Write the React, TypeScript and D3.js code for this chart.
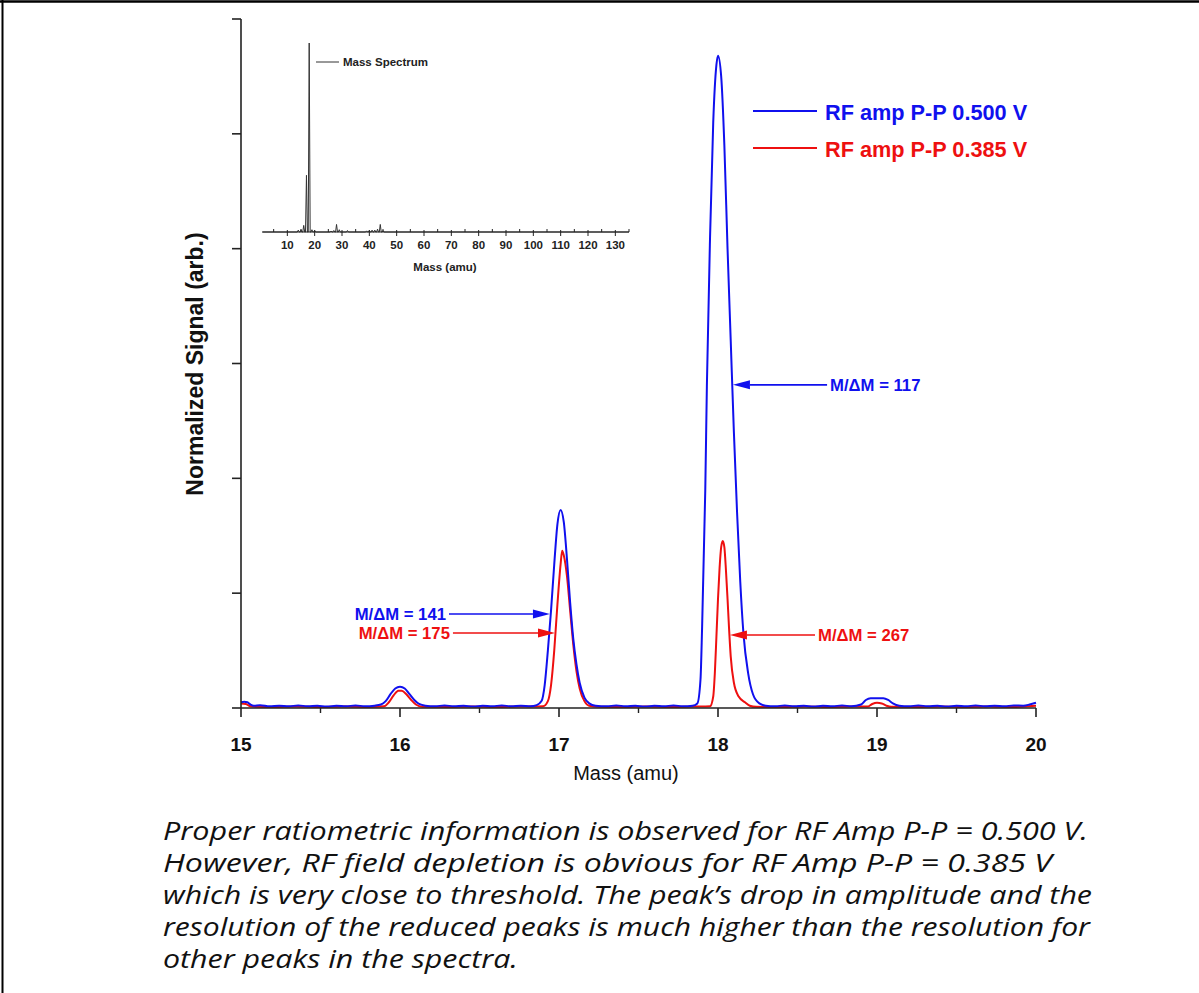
import React from 'react';
import * as d3 from 'd3';

const W = 1199;
const H = 993;

// ---------- data ----------
const massTicks = [15, 16, 17, 18, 19, 20];
const minorMassTicks = [15.5, 16.5, 17.5, 18.5, 19.5];
const signalTicks = [0, 1, 2, 3, 4, 5, 6];

const blueSeries: [number, number][] = [
  [15.0, 0.05], [15.02, 0.055], [15.04, 0.05], [15.06, 0.03], [15.08, 0.02], [15.12, 0.025],
  [15.18, 0.015], [15.24, 0.02], [15.3, 0.015], [15.36, 0.022], [15.42, 0.015], [15.48, 0.02],
  [15.54, 0.012], [15.6, 0.02], [15.66, 0.015], [15.72, 0.022], [15.78, 0.015], [15.84, 0.02],
  [15.88, 0.03], [15.91, 0.06], [15.94, 0.12], [15.97, 0.17], [16.0, 0.185], [16.03, 0.17],
  [16.06, 0.12], [16.09, 0.07], [16.12, 0.035], [16.16, 0.02], [16.22, 0.015], [16.28, 0.022],
  [16.34, 0.015], [16.4, 0.02], [16.46, 0.012], [16.52, 0.02], [16.58, 0.015], [16.64, 0.022],
  [16.7, 0.015], [16.76, 0.02], [16.82, 0.015], [16.86, 0.025], [16.89, 0.06], [16.91, 0.2],
  [16.93, 0.5], [16.95, 0.85], [16.97, 1.25], [16.99, 1.6], [17.01, 1.725], [17.03, 1.62],
  [17.05, 1.3], [17.07, 0.92], [17.09, 0.6], [17.11, 0.38], [17.13, 0.22], [17.16, 0.09],
  [17.19, 0.04], [17.23, 0.02], [17.3, 0.015], [17.36, 0.022], [17.42, 0.015], [17.48, 0.02],
  [17.54, 0.012], [17.6, 0.02], [17.66, 0.015], [17.72, 0.022], [17.78, 0.015], [17.84, 0.02],
  [17.87, 0.04], [17.89, 0.25], [17.9, 0.7], [17.92, 1.9], [17.93, 2.8], [17.95, 4.1],
  [17.97, 5.1], [17.99, 5.6], [18.0, 5.68], [18.02, 5.5], [18.04, 4.9], [18.06, 4.0],
  [18.08, 3.2], [18.1, 2.4], [18.12, 1.7], [18.14, 1.1], [18.16, 0.65], [18.19, 0.3],
  [18.22, 0.12], [18.26, 0.04], [18.3, 0.02], [18.36, 0.015], [18.42, 0.022], [18.48, 0.015],
  [18.54, 0.02], [18.6, 0.012], [18.66, 0.02], [18.72, 0.015], [18.78, 0.022], [18.84, 0.015],
  [18.9, 0.03], [18.93, 0.07], [18.96, 0.085], [19.0, 0.085], [19.04, 0.085], [19.07, 0.07],
  [19.1, 0.04], [19.14, 0.02], [19.2, 0.015], [19.26, 0.022], [19.32, 0.015], [19.38, 0.02],
  [19.44, 0.012], [19.5, 0.02], [19.56, 0.015], [19.62, 0.022], [19.68, 0.015], [19.74, 0.02],
  [19.8, 0.015], [19.86, 0.022], [19.92, 0.02], [19.96, 0.03], [20.0, 0.045],
];

const redSeries: [number, number][] = [
  [15.0, 0.04], [15.03, 0.035], [15.06, 0.015], [15.1, 0.01], [15.2, 0.008], [15.35, 0.012],
  [15.5, 0.008], [15.65, 0.012], [15.8, 0.008], [15.9, 0.015], [15.93, 0.05], [15.96, 0.11],
  [15.99, 0.15], [16.01, 0.15], [16.04, 0.12], [16.07, 0.07], [16.1, 0.03], [16.14, 0.01],
  [16.3, 0.008], [16.45, 0.012], [16.6, 0.008], [16.75, 0.012], [16.9, 0.015], [16.93, 0.06],
  [16.95, 0.2], [16.97, 0.5], [16.99, 0.9], [17.01, 1.25], [17.02, 1.37], [17.03, 1.33],
  [17.05, 1.15], [17.07, 0.85], [17.09, 0.55], [17.11, 0.32], [17.13, 0.17], [17.16, 0.06],
  [17.19, 0.02], [17.25, 0.01], [17.4, 0.008], [17.55, 0.012], [17.7, 0.008], [17.85, 0.012],
  [17.95, 0.015], [17.97, 0.1], [17.98, 0.3], [17.99, 0.62], [18.0, 0.95], [18.01, 1.22],
  [18.02, 1.4], [18.03, 1.455], [18.04, 1.4], [18.05, 1.2], [18.06, 0.95], [18.07, 0.68],
  [18.08, 0.45], [18.1, 0.22], [18.13, 0.1], [18.17, 0.05], [18.2, 0.02], [18.24, 0.01],
  [18.4, 0.008], [18.55, 0.012], [18.7, 0.008], [18.85, 0.012], [18.94, 0.012], [18.97, 0.035],
  [19.0, 0.045], [19.03, 0.04], [19.06, 0.02], [19.09, 0.01], [19.25, 0.008], [19.4, 0.012],
  [19.55, 0.008], [19.7, 0.012], [19.85, 0.008], [19.95, 0.015], [20.0, 0.02],
];

const legendLabels = ['RF amp P-P 0.500 V', 'RF amp P-P 0.385 V'];
const seriesColors = ['#1010ee', '#ee1010'];

// resolution annotations: label, color index, arrow tip (mass, signal), arrow tail mass
const resLabels = ['M/\u0394M = 141', 'M/\u0394M = 175', 'M/\u0394M = 117', 'M/\u0394M = 267'];
const resColor = [0, 1, 0, 1];
const resTipMass = [16.943, 16.975, 18.094, 18.075];
const resTipSignal = [0.819, 0.653, 2.814, 0.636];
const resTailMass = [16.308, 16.333, 18.686, 18.61];

// inset mass spectrum
const insetPeakMass = [14, 15, 16, 17, 18, 19, 20, 26, 27, 28, 29, 32, 39, 40, 41, 42, 43, 44, 45];
const insetPeakIntensity = [0.01, 0.012, 0.035, 0.3, 1.0, 0.012, 0.008, 0.005, 0.008, 0.04, 0.012, 0.008, 0.006, 0.008, 0.01, 0.01, 0.015, 0.04, 0.008];
const insetTicks = [10, 20, 30, 40, 50, 60, 70, 80, 90, 100, 110, 120, 130];
const insetMinorTicks = [5, 15, 25, 35, 45, 55, 65, 75, 85, 95, 105, 115, 125, 135];

const captionLines = [
  'Proper ratiometric information is observed for RF Amp P-P = 0.500 V.',
  'However, RF field depletion is obvious for RF Amp P-P = 0.385 V',
  'which is very close to threshold. The peak\u2019s drop in amplitude and the',
  'resolution of the reduced peaks is much higher than the resolution for',
  'other peaks in the spectra.',
];
const captionWidths = [925, 889, 929, 927, 355];

// ---------- layout ----------
const AX = 'Liberation Sans, Arial, sans-serif';
const x = d3.scaleLinear().domain([15, 20]).range([241, 1036]);
const y = d3.scaleLinear().domain([0, 6]).range([708, 19]);
const ix = d3.scaleLinear().domain([0, 135]).range([260, 629]);
const iy = d3.scaleLinear().domain([0, 1]).range([232, 43]);

const line = d3
  .line<[number, number]>()
  .x((d) => x(d[0]))
  .y((d) => y(d[1]))
  .curve(d3.curveMonotoneX);

function insetPath(): string {
  const pts: [number, number][] = [[1, 0]];
  insetPeakMass.forEach((m, i) => {
    pts.push([m - 0.35, 0], [m, insetPeakIntensity[i]], [m + 0.35, 0]);
  });
  pts.push([135, 0]);
  return d3
    .line<[number, number]>()
    .x((d) => ix(d[0]))
    .y((d) => iy(d[1]))(pts) as string;
}

function Arrow({ x1, x2, yy, color }: { x1: number; x2: number; yy: number; color: string }) {
  const dir = Math.sign(x2 - x1);
  const hl = 17;
  const hw = 4.5;
  const bx = x2 - dir * hl;
  return (
    <g>
      <line x1={x1} y1={yy} x2={bx} y2={yy} stroke={color} strokeWidth={1.6} />
      <polygon points={`${x2},${yy} ${bx},${yy - hw} ${bx},${yy + hw}`} fill={color} />
    </g>
  );
}

export default function App() {
  return (
    <div style={{ position: 'absolute', left: 0, top: 0 }}>
      <svg width={W} height={H} viewBox={`0 0 ${W} ${H}`} style={{ display: 'block', background: '#fff' }}>
        <rect x={0} y={0} width={W} height={H} fill="#fff" />
        {/* frame */}
        <line x1={0} y1={1.5} x2={W} y2={1.5} stroke="#000" strokeWidth={2.5} />
        <line x1={2.5} y1={0} x2={2.5} y2={H} stroke="#000" strokeWidth={2} />

        {/* main series */}
        <path d={line(redSeries) as string} fill="none" stroke={seriesColors[1]} strokeWidth={2} />
        <path d={line(blueSeries) as string} fill="none" stroke={seriesColors[0]} strokeWidth={2} />

        {/* axes */}
        <line x1={x(15)} y1={y(0)} x2={x(20)} y2={y(0)} stroke="#222" strokeWidth={1.6} />
        <line x1={x(15)} y1={y(0)} x2={x(15)} y2={y(6)} stroke="#222" strokeWidth={1.6} />
        {massTicks.map((t) => (
          <g key={'mt' + t}>
            <line x1={x(t)} y1={y(0)} x2={x(t)} y2={y(0) + 9} stroke="#222" strokeWidth={1.6} />
            <text x={x(t)} y={y(0) + 43} textAnchor="middle" fontFamily={AX} fontWeight="bold" fontSize={19} fill="#111">
              {t}
            </text>
          </g>
        ))}
        {minorMassTicks.map((t) => (
          <line key={'mm' + t} x1={x(t)} y1={y(0)} x2={x(t)} y2={y(0) + 5} stroke="#222" strokeWidth={1.4} />
        ))}
        {signalTicks.map((t) => (
          <line key={'st' + t} x1={x(15) - 9} y1={y(t)} x2={x(15)} y2={y(t)} stroke="#222" strokeWidth={1.6} />
        ))}
        <text x={626} y={780} textAnchor="middle" fontFamily={AX} fontSize={20} fill="#111">
          Mass (amu)
        </text>
        <text
          transform={`translate(203, ${364}) rotate(-90)`}
          textAnchor="middle"
          fontFamily={AX}
          fontWeight="bold"
          fontSize={23}
          fill="#111"
        >
          Normalized Signal (arb.)
        </text>

        {/* legend */}
        {legendLabels.map((lab, i) => (
          <g key={lab}>
            <line x1={753} y1={111 + i * 37} x2={817} y2={111 + i * 37} stroke={seriesColors[i]} strokeWidth={1.8} />
            <text x={825} y={120 + i * 37} fontFamily={AX} fontWeight="bold" fontSize={21.7} fill={seriesColors[i]}>
              {lab}
            </text>
          </g>
        ))}

        {/* resolution annotations */}
        {resLabels.map((lab, i) => {
          const tipX = x(resTipMass[i]);
          const tailX = x(resTailMass[i]);
          const yy = y(resTipSignal[i]);
          const left = tailX < tipX;
          const color = seriesColors[resColor[i]];
          return (
            <g key={lab}>
              <Arrow x1={tailX} x2={tipX} yy={yy} color={color} />
              <text
                x={left ? tailX - 3 : tailX + 3}
                y={yy + 6}
                textAnchor={left ? 'end' : 'start'}
                fontFamily={AX}
                fontWeight="bold"
                fontSize={16.7}
                fill={color}
              >
                {lab}
              </text>
            </g>
          );
        })}

        {/* inset */}
        <path d={insetPath()} fill="none" stroke="#333" strokeWidth={1} />
        <line x1={262} y1={232} x2={629} y2={232} stroke="#222" strokeWidth={1.2} />
        {insetTicks.map((t) => (
          <g key={'it' + t}>
            <line x1={ix(t)} y1={230} x2={ix(t)} y2={236} stroke="#222" strokeWidth={1} />
            <text x={ix(t)} y={249} textAnchor="middle" fontFamily={AX} fontWeight="bold" fontSize={11.5} fill="#222">
              {t}
            </text>
          </g>
        ))}
        {insetMinorTicks.map((t) => (
          <line key={'imt' + t} x1={ix(t)} y1={229} x2={ix(t)} y2={232} stroke="#222" strokeWidth={1} />
        ))}
        <text x={445} y={271} textAnchor="middle" fontFamily={AX} fontWeight="bold" fontSize={11.5} fill="#222">
          Mass (amu)
        </text>
        <line x1={316} y1={62} x2={339} y2={62} stroke="#333" strokeWidth={1} />
        <text x={343} y={66} fontFamily={AX} fontWeight="bold" fontSize={11.5} fill="#222">
          Mass Spectrum
        </text>

        {/* caption */}
        {captionLines.map((ln, i) => (
          <text
            key={i}
            x={163}
            y={840 + i * 32}
            fontFamily="Open Sans, sans-serif"
            fontStyle="italic"
            fontSize={25}
            textLength={captionWidths[i]}
            lengthAdjust="spacingAndGlyphs"
            fill="#111"
          >
            {ln}
          </text>
        ))}
      </svg>
    </div>
  );
}
